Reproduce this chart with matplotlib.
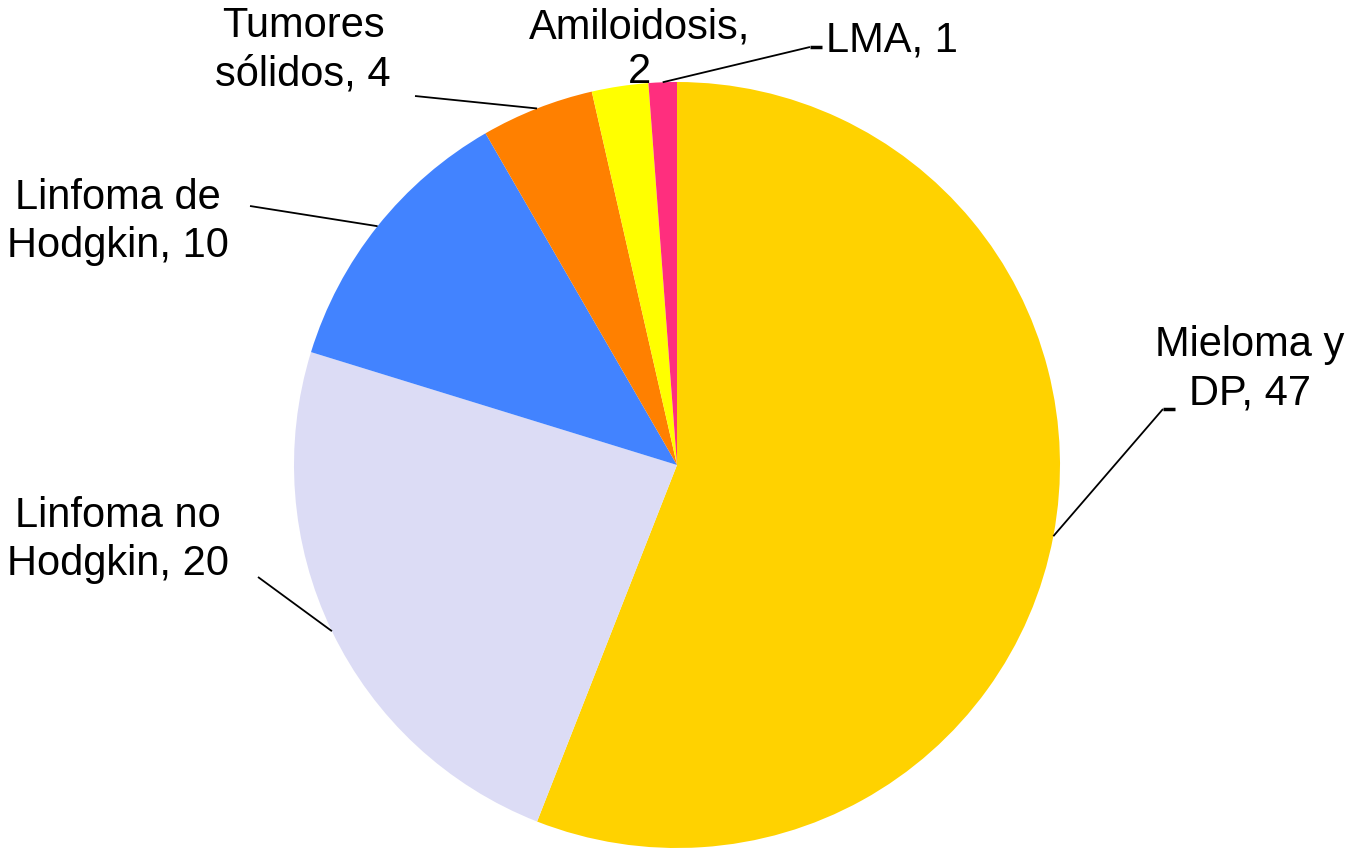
import matplotlib
matplotlib.use("Agg")
import matplotlib.pyplot as plt
import numpy as np

categories = ["Mieloma y DP", "Linfoma no Hodgkin", "Linfoma de Hodgkin",
              "Tumores sólidos", "Amiloidosis", "LMA"]
values = [47, 20, 10, 4, 2, 1]
colors = ["#FFD200", "#DCDCF5", "#4283FF", "#FF8000", "#FFFF00", "#FF2E7E"]
labels = [
    "Mieloma y\nDP, 47",
    "Linfoma no\nHodgkin, 20",
    "Linfoma de\nHodgkin, 10",
    "Tumores\nsólidos, 4",
    "Amiloidosis,\n2",
    "LMA, 1",
]

W, H = 1348, 853
plt.rcParams['font.family'] = ['Liberation Sans', 'DejaVu Sans']
fig = plt.figure(figsize=(W / 100, H / 100), dpi=100)
ax = fig.add_axes([0, 0, 1, 1])

cx, cy, R = 677, H - 466, 383
wedges, _ = ax.pie(values, colors=colors, startangle=90, counterclock=False,
                   center=(cx, cy), radius=R, wedgeprops=dict(linewidth=0))
ax.set_xlim(0, W)
ax.set_ylim(0, H)
ax.set_aspect('equal')
ax.axis('off')

# (text x, text y px from top, ha, linespacing, leader end px or None, tick length)
layout = [
    (1250, 369, 'center', 1.27, (1163, 410), 12),
    (118, 540, 'center', 1.27, (258, 578), 0),
    (118, 222, 'center', 1.27, (250, 207), 0),
    (303, 50, 'center', 1.27, (415, 97), 0),
    (640, 50, 'center', 1.16, None, 0),
    (826, 40, 'left', 1.2, (810, 48), 12),
]

fs = 30
for w, lab, (tx, ty, ha, ls, lead, tick) in zip(wedges, labels, layout):
    ax.text(tx, H - ty, lab, ha=ha, va='center', fontsize=fs, color='black',
            linespacing=ls)
    if lead is not None:
        mid = np.deg2rad((w.theta1 + w.theta2) / 2)
        ex, ey = cx + R * np.cos(mid), cy + R * np.sin(mid)
        lx, ly = lead[0], H - lead[1]
        ax.plot([ex, lx], [ey, ly], color='black', lw=1.3, solid_capstyle='butt')
        if tick:
            ax.plot([lx, lx + tick], [ly, ly], color='black', lw=2.5,
                    solid_capstyle='butt')

fig.savefig("out.png", dpi=100, facecolor='white')
